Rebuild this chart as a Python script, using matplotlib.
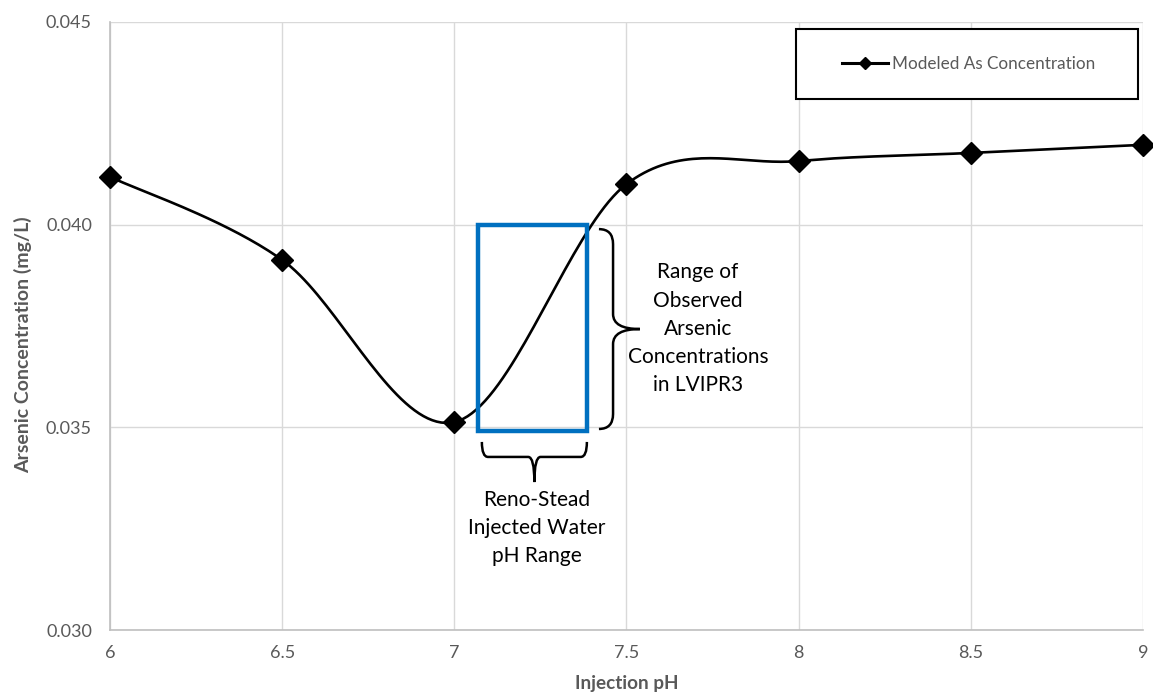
import numpy as np
import matplotlib
matplotlib.use("Agg")
import matplotlib.pyplot as plt
from matplotlib.path import Path
from matplotlib.patches import PathPatch, Rectangle
from matplotlib.lines import Line2D

plt.rcParams['font.family'] = ['Lato', 'DejaVu Sans']

# data
ph = [6.0, 6.5, 7.0, 7.5, 8.0, 8.5, 9.0]
arsenic = [0.04118, 0.03913, 0.03513, 0.04100, 0.04157, 0.04177, 0.04197]

# annotated ranges
ph_range = [7.07, 7.385]
obs_range = [0.0349, 0.0400]

xticks = [6, 6.5, 7, 7.5, 8, 8.5, 9]
xticklabels = ['6', '6.5', '7', '7.5', '8', '8.5', '9']
yticks = [0.030, 0.035, 0.040, 0.045]

GRAY = '#595959'
BLUE = '#0070C0'


def smooth(x, y, xr, yr, n=40):
    # excel-like smoothed line: bezier through points, tangents from neighbours
    x = np.asarray(x) / xr
    y = np.asarray(y) / yr
    px = np.concatenate([[x[0]], x, [x[-1]]])
    py = np.concatenate([[y[0]], y, [y[-1]]])
    ox, oy = [], []
    t = np.linspace(0, 1, n)
    for i in range(1, len(px) - 2):
        p0 = np.array([px[i], py[i]])
        p3 = np.array([px[i + 1], py[i + 1]])
        p1 = p0 + (np.array([px[i + 1], py[i + 1]]) - np.array([px[i - 1], py[i - 1]])) / 6
        p2 = p3 - (np.array([px[i + 2], py[i + 2]]) - np.array([px[i], py[i]])) / 6
        b = ((1 - t) ** 3)[:, None] * p0 + (3 * (1 - t) ** 2 * t)[:, None] * p1 \
            + (3 * (1 - t) * t ** 2)[:, None] * p2 + (t ** 3)[:, None] * p3
        ox.extend(b[:, 0])
        oy.extend(b[:, 1])
    return np.array(ox) * xr, np.array(oy) * yr


def brace_v(ax, x0, x1, x2, ybot, ytop, r):
    ymid = (ybot + ytop) / 2
    verts = [(x0, ytop), (x1, ytop), (x1, ytop - r),
             (x1, ymid + r), (x1, ymid), (x2, ymid),
             (x1, ymid), (x1, ymid - r),
             (x1, ybot + r), (x1, ybot), (x0, ybot)]
    codes = [Path.MOVETO, Path.CURVE3, Path.CURVE3,
             Path.LINETO, Path.CURVE3, Path.CURVE3,
             Path.CURVE3, Path.CURVE3,
             Path.LINETO, Path.CURVE3, Path.CURVE3]
    ax.add_patch(PathPatch(Path(verts, codes), fill=False, lw=1.8, color='black', zorder=5))


def brace_h(ax, y0, y1, y2, xl, xr, r):
    xmid = (xl + xr) / 2
    verts = [(xl, y0), (xl, y1), (xl + r, y1),
             (xmid - r, y1), (xmid, y1), (xmid, y2),
             (xmid, y1), (xmid + r, y1),
             (xr - r, y1), (xr, y1), (xr, y0)]
    codes = [Path.MOVETO, Path.CURVE3, Path.CURVE3,
             Path.LINETO, Path.CURVE3, Path.CURVE3,
             Path.CURVE3, Path.CURVE3,
             Path.LINETO, Path.CURVE3, Path.CURVE3]
    ax.add_patch(PathPatch(Path(verts, codes), fill=False, lw=1.8, color='black', zorder=5))


fig = plt.figure(figsize=(11.53, 6.94), dpi=100)
ax = fig.add_axes([0.0954, 0.0922, 0.8959, 0.8761])

ax.set_xlim(6, 9)
ax.set_ylim(0.030, 0.045)

sx, sy = smooth(ph, arsenic, 3.0, 0.015)
ax.plot(sx, sy, color='black', lw=1.9, zorder=4)
ax.plot(ph, arsenic, 'D', color='black', ms=11, zorder=6, clip_on=False)

# blue box
ax.add_patch(Rectangle((ph_range[0], obs_range[0]), ph_range[1] - ph_range[0],
                       obs_range[1] - obs_range[0], fill=False, ec=BLUE, lw=3.2, zorder=5))

brace_v(ax, 7.420, 7.461, 7.539, 0.03496, 0.03989, 0.00037)
brace_h(ax, 0.03464, 0.03427, 0.03365, 7.080, 7.385, 0.018)

ax.text(7.708, 0.03743, 'Range of\nObserved\nArsenic\nConcentrations\nin LVIPR3',
        ha='center', va='center', fontsize=15, linespacing=1.52, color='black')
ax.text(7.24, 0.03252, 'Reno-Stead\nInjected Water\npH Range',
        ha='center', va='center', fontsize=15, linespacing=1.52, color='black')

ax.set_xticks(xticks)
ax.set_xticklabels(xticklabels)
ax.set_yticks(yticks)
ax.set_yticklabels(['%.3f' % v for v in yticks])
ax.tick_params(axis='both', length=0, labelsize=13, labelcolor=GRAY)
ax.tick_params(axis='x', pad=11)
ax.tick_params(axis='y', pad=13)
ax.grid(True, color='#d9d9d9', lw=1)
ax.set_axisbelow(True)
for s in ['top', 'right']:
    ax.spines[s].set_visible(False)
for s in ['left', 'bottom']:
    ax.spines[s].set_color('#bfbfbf')
    ax.spines[s].set_linewidth(1.2)

ax.set_xlabel('Injection pH', fontsize=13.6, fontweight='bold', color=GRAY)
ax.set_ylabel('Arsenic Concentration (mg/L)', fontsize=14, fontweight='bold', color=GRAY)
ax.xaxis.set_label_coords(0.5, -0.074)
ax.yaxis.set_label_coords(-0.0755, 0.469)

# legend box
ax.add_patch(Rectangle((0.664, 0.873), 0.331, 0.1155, transform=ax.transAxes,
                       fill=True, fc='white', ec='black', lw=1.5, zorder=7))
handle = Line2D([], [], color='black', lw=2.2, marker='D', ms=6)
ax.legend([handle], ['Modeled As Concentration'], loc='center', bbox_to_anchor=(0.831, 0.931),
          frameon=False, fontsize=12.3, handlelength=2.7, handletextpad=0.2,
          labelcolor=GRAY).set_zorder(8)

fig.savefig('out.png', dpi=100)
